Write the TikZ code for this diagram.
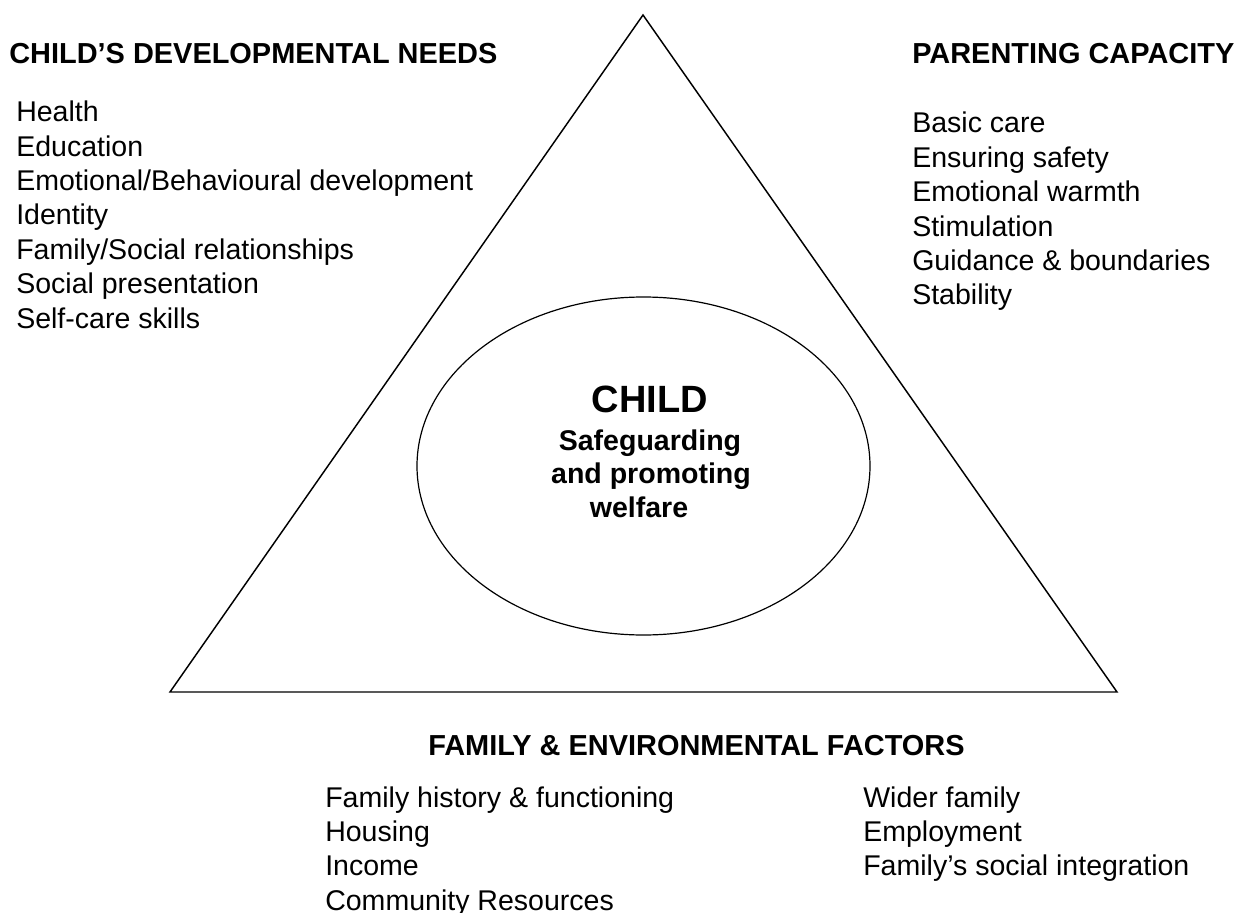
\documentclass[tikz,border=0pt]{standalone}
\usepackage{fontspec}
\setmainfont{Liberation Sans}
\usetikzlibrary{shapes.geometric}
\tikzset{
  heading/.style={anchor=base west, inner sep=0pt, font=\fontsize{21.7}{26}\selectfont\bfseries},
  item/.style={anchor=base west, inner sep=0pt, font=\fontsize{21.4}{26}\selectfont},
  core/.style={anchor=base, inner sep=0pt, font=\fontsize{21.4}{26}\selectfont\bfseries},
}
\begin{document}
\begin{tikzpicture}[x=0.75pt, y=-0.75pt]
    \useasboundingbox (0,0) rectangle (1243,913);
    % El triangulo con el nino en el centro.
    \coordinate (apex) at (643,15);
    \coordinate (baseL) at (170,692);
    \coordinate (baseR) at (1117,692);
    \draw[line width=1.1pt, line join=miter] (apex) -- (baseL) -- (baseR) -- cycle;
    \node[ellipse, draw, line width=0.9pt, inner sep=0pt, minimum width=339.75pt, minimum height=253.5pt] (child) at (643.5,466) {};
    \node[core, font=\fontsize{28.5}{30}\selectfont\bfseries] (childName) at (650,412) {CHILD};
    \node[core] (childLine1) at (650,450) {Safeguarding};
    \node[core] (childLine2) at (651,483.5) {and promoting};
    \node[core] (childLine3) at (639,517) {welfare};
    % Lado izquierdo: necesidades del nino.
    \node[heading] (hdNeeds) at (9,64) {CHILD’S DEVELOPMENTAL NEEDS};
    \node[item] (needs1) at (16,121.7) {Health};
    \node[item] (needs2) at (16,156.1) {Education};
    \node[item] (needs3) at (16,190.5) {Emotional/Behavioural development};
    \node[item] (needs4) at (16,224.9) {Identity};
    \node[item] (needs5) at (16,259.3) {Family/Social relationships};
    \node[item] (needs6) at (16,293.7) {Social presentation};
    \node[item] (needs7) at (16,328.1) {Self-care skills};
    % Lado derecho: capacidad parental.
    \node[heading] (hdParenting) at (912,64) {PARENTING CAPACITY};
    \node[item] (parent1) at (912,133) {Basic care};
    \node[item] (parent2) at (912,167.4) {Ensuring safety};
    \node[item] (parent3) at (912,201.8) {Emotional warmth};
    \node[item] (parent4) at (912,236.2) {Stimulation};
    \node[item] (parent5) at (912,270.6) {Guidance \& boundaries};
    \node[item] (parent6) at (912,305) {Stability};
    % Base: factores familiares y del entorno.
    \node[heading] (hdFamily) at (428,755) {FAMILY \& ENVIRONMENTAL FACTORS};
    \node[item] (family1) at (325,807) {Family history \& functioning};
    \node[item] (family2) at (325,841.4) {Housing};
    \node[item] (family3) at (325,875.8) {Income};
    \node[item] (family4) at (325,910.2) {Community Resources};
    \node[item] (family5) at (863,807) {Wider family};
    \node[item] (family6) at (863,841.4) {Employment};
    \node[item] (family7) at (863,875.8) {Family’s social integration};
\end{tikzpicture}
\end{document}
